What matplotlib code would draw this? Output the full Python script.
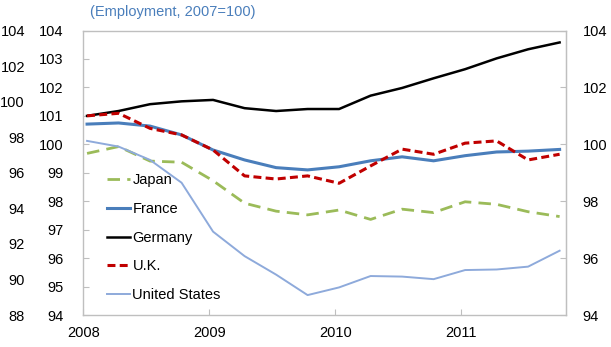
import matplotlib
matplotlib.use("Agg")
import matplotlib.pyplot as plt
import numpy as np

plt.rcParams["font.family"] = ["Liberation Sans", "DejaVu Sans"]
plt.rcParams["font.size"] = 10.5

# quarterly data, 2008Q1 .. 2011Q4 (index, 2007=100)
years = np.repeat([2008, 2009, 2010, 2011], 4)
qtr = np.tile([0, 1, 2, 3], 4)
x = years + qtr * 0.25 + 0.03

japan = [99.68, 99.92, 99.41, 99.37, 98.72, 97.93, 97.65, 97.52,
         97.69, 97.36, 97.72, 97.60, 97.98, 97.89, 97.63, 97.46]
france = [100.71, 100.75, 100.64, 100.33, 99.80, 99.45, 99.18, 99.10,
          99.21, 99.42, 99.56, 99.42, 99.60, 99.73, 99.76, 99.82]
germany = [101.00, 101.17, 101.41, 101.51, 101.56, 101.27, 101.17, 101.24,
           101.24, 101.71, 101.98, 102.32, 102.64, 103.02, 103.34, 103.58]
uk = [101.00, 101.09, 100.56, 100.33, 99.80, 98.89, 98.78, 98.89,
      98.63, 99.24, 99.83, 99.65, 100.04, 100.12, 99.45, 99.65]
us = [100.12, 99.92, 99.45, 98.65, 96.93, 96.07, 95.42, 94.70,
      94.97, 95.37, 95.35, 95.26, 95.58, 95.60, 95.70, 96.26]

inner_ticks = np.arange(94, 105, 1)
outer_ticks = np.arange(88, 105, 2)
right_ticks = np.arange(94, 105, 2)
year_ticks = [2008, 2009, 2010, 2011]

GRAY = "#bfbfbf"

fig = plt.figure(figsize=(6.11, 3.47), dpi=100)
ax = fig.add_axes([0.1363, 0.0922, 0.7901, 0.8199])

ax.plot(x, japan, color="#9bbb59", lw=2.0, dashes=(4.5, 2.6), label="Japan")
ax.plot(x, france, color="#4a7ebb", lw=2.2, label="France")
ax.plot(x, germany, color="black", lw=1.8, label="Germany")
ax.plot(x, uk, color="#c00000", lw=2.2, dashes=(2.6, 1.4), label="U.K.")
ax.plot(x, us, color="#8eaadb", lw=1.4, label="United States")

ax.set_xlim(2008, 2011.831)
ax.set_ylim(94, 104)
ax.set_xticks(year_ticks)
ax.set_xticklabels([str(y) for y in year_ticks])
ax.set_yticks(inner_ticks)

for s in ax.spines.values():
    s.set_color(GRAY)
    s.set_linewidth(1.0)
ax.tick_params(axis="x", direction="in", length=4, color=GRAY, pad=8)
ax.tick_params(axis="y", direction="in", length=4, color=GRAY, pad=14)

# outer left axis (88-104)
def to_outer(v):
    return 88 + (v - 94) * 1.6

def from_outer(v):
    return 94 + (v - 88) / 1.6

outer = ax.secondary_yaxis("left", functions=(to_outer, from_outer))
outer.set_yticks(outer_ticks)
outer.tick_params(length=0, pad=42)
outer.spines["left"].set_visible(False)

right = ax.secondary_yaxis("right")
right.set_yticks(right_ticks)
right.tick_params(direction="in", length=4, color=GRAY, pad=12)
right.spines["right"].set_color(GRAY)

leg = ax.legend(loc="upper left", bbox_to_anchor=(0.037, 0.518), frameon=False,
                handlelength=1.6, handletextpad=0.15, labelspacing=1.0,
                borderaxespad=0)

fig.text(0.148, 0.965, "(Employment, 2007=100)", color="#4a7ebb",
         fontsize=10.5, ha="left", va="center")

fig.savefig("out.png", dpi=100)
